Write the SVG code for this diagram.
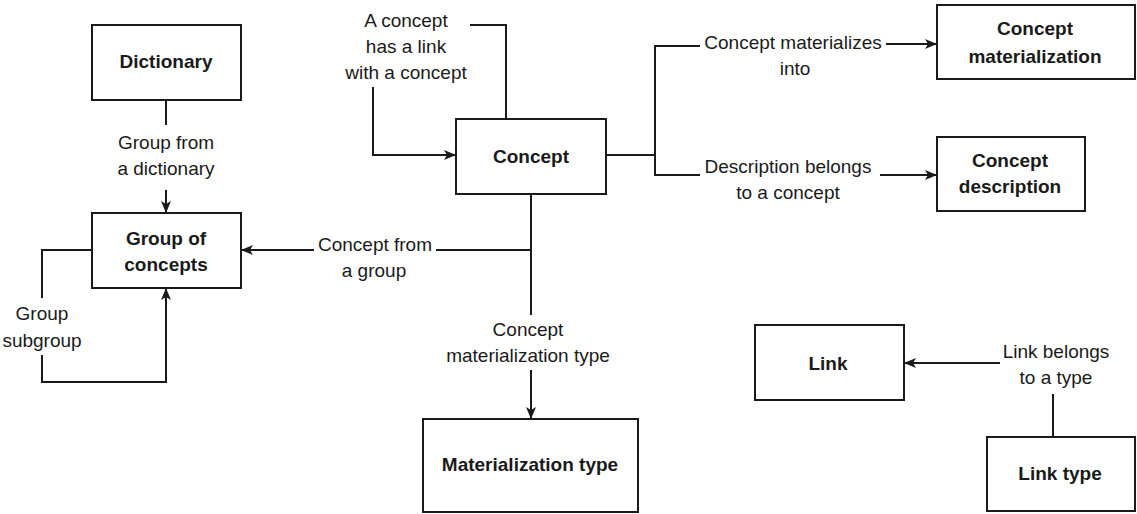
<svg xmlns="http://www.w3.org/2000/svg" width="1137" height="514" viewBox="0 0 1137 514">
<style>
.box{fill:#fff;stroke:#1a1a1a;stroke-width:2}
.t{font-family:"Liberation Sans",Arial,sans-serif;font-size:19px;fill:#1a1a1a;text-anchor:middle}
.b{font-weight:bold}
.c{fill:none;stroke:#1a1a1a;stroke-width:2}
</style>
<defs>
<marker id="arr" viewBox="0 0 12 10" refX="11" refY="5" markerWidth="12" markerHeight="10" markerUnits="userSpaceOnUse" orient="auto">
<path d="M0,0 L12,5 L0,10 L3,5 Z" fill="#1a1a1a"/>
</marker>
</defs>
<rect width="1137" height="514" fill="#fff"/>
<g id="connectors">
<path class="c" d="M166,100 V125"/>
<path class="c" d="M166,190 V212" marker-end="url(#arr)"/>
<path class="c" d="M92,250 H42 V298"/>
<path class="c" d="M42,355 V382 H166 V289" marker-end="url(#arr)"/>
<path class="c" d="M506,119 V25 H470"/>
<path class="c" d="M373,87 V155 H455" marker-end="url(#arr)"/>
<path class="c" d="M606,155 H655"/>
<path class="c" d="M700,46 H655 V175 H700"/>
<path class="c" d="M886,44 H936" marker-end="url(#arr)"/>
<path class="c" d="M880,175 H936" marker-end="url(#arr)"/>
<path class="c" d="M531,194 V315"/>
<path class="c" d="M531,250 H436"/>
<path class="c" d="M314,250 H242" marker-end="url(#arr)"/>
<path class="c" d="M531,370 V418" marker-end="url(#arr)"/>
<path class="c" d="M1053,437 V394"/>
<path class="c" d="M1000,363 H905" marker-end="url(#arr)"/>
<text class="t" x="166" y="149">Group from</text>
<text class="t" x="166" y="175">a dictionary</text>
<text class="t" x="42" y="320">Group</text>
<text class="t" x="42" y="347">subgroup</text>
<text class="t" x="406" y="27">A concept</text>
<text class="t" x="406" y="53">has a link</text>
<text class="t" x="406" y="79">with a concept</text>
<text class="t" x="793" y="49">Concept materializes</text>
<text class="t" x="795" y="75">into</text>
<text class="t" x="788" y="173">Description belongs</text>
<text class="t" x="788" y="199">to a concept</text>
<text class="t" x="375" y="251">Concept from</text>
<text class="t" x="374" y="277">a group</text>
<text class="t" x="528" y="336">Concept</text>
<text class="t" x="528" y="362">materialization type</text>
<text class="t" x="1056" y="358">Link belongs</text>
<text class="t" x="1056" y="384">to a type</text>
</g>
<g id="dictionary">
<rect class="box" x="92" y="25" width="149" height="75"/>
<text class="t b" x="166" y="68">Dictionary</text>
</g>
<g id="group-of-concepts">
<rect class="box" x="92" y="213" width="149" height="75"/>
<text class="t b" x="166" y="245">Group of</text>
<text class="t b" x="166" y="271">concepts</text>
</g>
<g id="concept">
<rect class="box" x="456" y="119" width="150" height="75"/>
<text class="t b" x="531" y="163">Concept</text>
</g>
<g id="concept-materialization">
<rect class="box" x="937" y="5" width="198" height="74"/>
<text class="t b" x="1035" y="35">Concept</text>
<text class="t b" x="1035" y="63">materialization</text>
</g>
<g id="concept-description">
<rect class="box" x="937" y="137" width="148" height="74"/>
<text class="t b" x="1010" y="167">Concept</text>
<text class="t b" x="1010" y="193">description</text>
</g>
<g id="materialization-type">
<rect class="box" x="423" y="419" width="215" height="93"/>
<text class="t b" x="530" y="471">Materialization type</text>
</g>
<g id="link">
<rect class="box" x="755" y="325" width="149" height="75"/>
<text class="t b" x="828" y="370">Link</text>
</g>
<g id="link-type">
<rect class="box" x="987" y="437" width="148" height="74"/>
<text class="t b" x="1060" y="480">Link type</text>
</g>
</svg>
